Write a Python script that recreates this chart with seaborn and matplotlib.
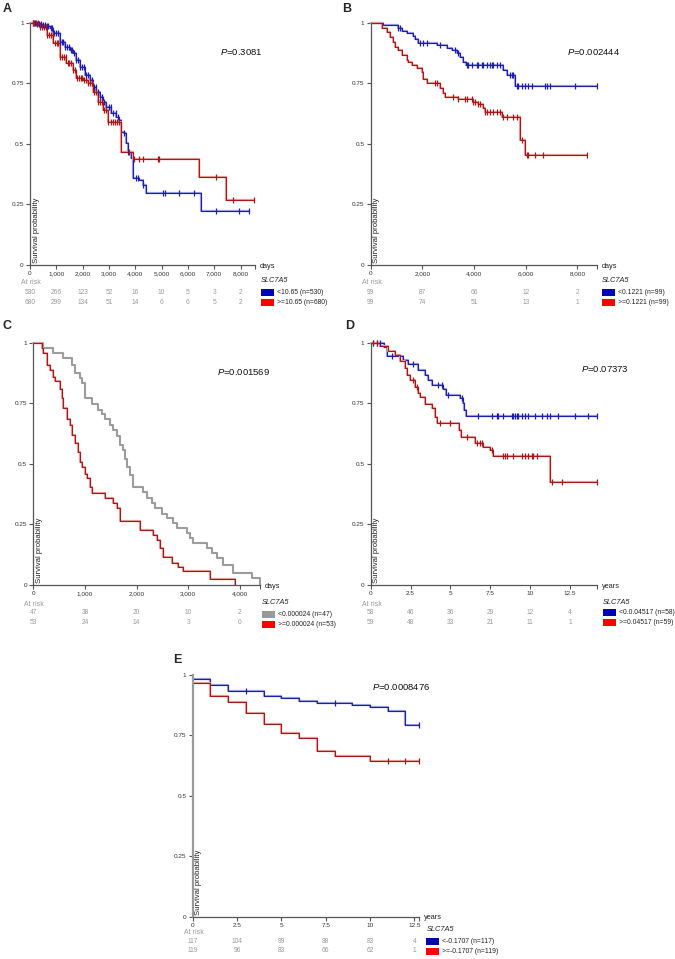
import numpy as np
import pandas as pd
import seaborn as sns
import matplotlib.pyplot as plt
from matplotlib.patches import Rectangle

W, H = 675, 959

# ========= data =========
# panel A (days)
a_low_t = [0, 250, 450, 600, 760, 880, 1130, 1320, 1510, 1640, 1740, 1890, 2080, 2270, 2390, 2520,
           2645, 2770, 2900, 3085, 3275, 3400, 3460, 3590, 3650, 3715, 3840, 3900, 4155, 4280, 4410, 6485]
a_low_s = [1.0, 0.995, 0.99, 0.985, 0.977, 0.956, 0.92, 0.90, 0.887, 0.873, 0.846, 0.818, 0.784, 0.763, 0.736, 0.715,
           0.695, 0.674, 0.653, 0.626, 0.612, 0.598, 0.55, 0.543, 0.502, 0.468, 0.44, 0.358, 0.351, 0.33, 0.296, 0.224]
a_low_end = 8315
a_low_cens = [120, 200, 280, 350, 430, 500, 560, 640, 700, 780, 850, 920, 990, 1060, 1130, 1200, 1260, 1330,
              1400, 1470, 1540, 1600, 1680, 1750, 1820, 1900, 1970, 2050, 2120, 2200, 2280, 2350, 2430, 2500,
              2580, 2660, 2740, 2820, 2900, 2990, 3080, 3170, 3260, 3350, 3590, 3715, 4030, 4090, 4280,
              5040, 5130, 5670, 6235, 7055, 7935, 8315]
a_high_t = [0, 380, 630, 880, 1130, 1385, 1640, 1765, 2015, 2200, 2390, 2580, 2770, 2960, 3460, 3900, 6440, 7450]
a_high_s = [1.0, 0.983, 0.95, 0.915, 0.86, 0.832, 0.805, 0.77, 0.763, 0.75, 0.715, 0.674, 0.64, 0.59, 0.465,
            0.436, 0.365, 0.27]
a_high_end = 8500
a_high_cens = [100, 170, 240, 310, 380, 450, 520, 590, 660, 730, 800, 870, 940, 1010, 1080, 1150, 1220, 1290,
               1360, 1430, 1500, 1570, 1640, 1710, 1780, 1850, 1920, 1990, 2060, 2130, 2200, 2270, 2340, 2420,
               2500, 2580, 2660, 2740, 2820, 2900, 2980, 3060, 3140, 3220, 3300, 3380, 3780, 3970, 4160, 4280,
               4850, 4910, 7055, 7700, 8500]
a_risk_low = [530, 266, 123, 52, 16, 10, 5, 3, 2]
a_risk_high = [680, 299, 134, 51, 14, 6, 6, 5, 2]
a_ticks = [0, 1000, 2000, 3000, 4000, 5000, 6000, 7000, 8000]
a_ticklabels = ["0", "1,000", "2,000", "3,000", "4,000", "5,000", "6,000", "7,000", "8,000"]
a_legend = ["<10.65 (n=530)", ">=10.65 (n=680)"]

# panel B (days)
b_low_t = [0, 490, 1070, 1200, 1390, 1650, 1716, 1845, 2555, 2940, 3135, 3330, 3460, 3590, 3690, 5135, 5265, 5590]
b_low_s = [1.0, 0.99, 0.98, 0.966, 0.956, 0.945, 0.931, 0.915, 0.908, 0.897, 0.887, 0.873, 0.86, 0.839,
           0.824, 0.805, 0.783, 0.739]
b_low_end = 8750
b_low_cens = [1070, 1135, 1910, 2040, 2170, 2685, 3265, 3395, 3715, 3780, 3910, 4105, 4170, 4295, 4360, 4490,
              4620, 4685, 4750, 4880, 5005, 5395, 5460, 5525, 5650, 5715, 5845, 5975, 6105, 6230, 6750, 6815,
              6940, 7910, 8750]
b_high_t = [0, 425, 620, 750, 880, 940, 1070, 1200, 1390, 1460, 1590, 1780, 1975, 2040, 2170, 2685, 2815, 2880,
            3390, 3975, 4170, 4360, 4425, 5070, 5780, 5975]
b_high_s = [1.0, 0.977, 0.96, 0.94, 0.92, 0.9, 0.887, 0.866, 0.846, 0.839, 0.825, 0.811, 0.798, 0.768, 0.75,
            0.729, 0.708, 0.695, 0.685, 0.674, 0.664, 0.646, 0.633, 0.612, 0.516, 0.454]
b_high_end = 8360
b_high_cens = [2490, 2555, 3200, 3395, 3650, 3715, 3910, 3975, 4040, 4170, 4230, 4425, 4490, 4620, 4750, 4880,
               5005, 5135, 5265, 5525, 5650, 5845, 6040, 6105, 6360, 6685, 8360]
b_risk_low = [99, 87, 66, 12, 2]
b_risk_high = [99, 74, 51, 13, 1]
b_ticks = [0, 2000, 4000, 6000, 8000]
b_ticklabels = ["0", "2,000", "4,000", "6,000", "8,000"]
b_legend = ["<0.1221 (n=99)", ">=0.1221 (n=99)"]

# panel C (days)
c_low_t = [0, 194, 387, 580, 742, 806, 903, 935, 1000, 1129, 1258, 1322, 1387, 1484, 1548, 1613, 1677, 1729,
           1774, 1806, 1870, 1935, 2129, 2194, 2290, 2355, 2484, 2581, 2710, 2774, 2968, 3032, 3097, 3355,
           3452, 3548, 3677, 3871, 4226, 4387]
c_low_s = [1.0, 0.98, 0.959, 0.938, 0.908, 0.873, 0.853, 0.832, 0.77, 0.746, 0.723, 0.705, 0.684, 0.66, 0.64,
           0.617, 0.578, 0.556, 0.522, 0.488, 0.454, 0.406, 0.385, 0.358, 0.337, 0.316, 0.293, 0.275, 0.257,
           0.234, 0.216, 0.193, 0.172, 0.151, 0.131, 0.11, 0.083, 0.048, 0.028, 0.0]
c_low_end = 4387
c_high_t = [0, 161, 194, 258, 323, 387, 420, 516, 548, 580, 645, 710, 742, 806, 871, 903, 935, 1000, 1032, 1097,
            1129, 1387, 1548, 1613, 1677, 2065, 2323, 2387, 2452, 2516, 2677, 2806, 2903, 3419, 3903]
c_high_s = [1.0, 0.977, 0.956, 0.908, 0.887, 0.86, 0.84, 0.81, 0.77, 0.73, 0.684, 0.66, 0.62, 0.585, 0.55, 0.509,
            0.488, 0.46, 0.44, 0.406, 0.378, 0.358, 0.337, 0.316, 0.265, 0.227, 0.206, 0.186, 0.151, 0.114,
            0.092, 0.073, 0.058, 0.023, 0.0]
c_high_end = 3903
c_risk_low = [47, 38, 20, 10, 2]
c_risk_high = [53, 24, 14, 3, 0]
c_ticks = [0, 1000, 2000, 3000, 4000]
c_ticklabels = ["0", "1,000", "2,000", "3,000", "4,000"]
c_legend = ["<0.000024 (n=47)", ">=0.000024 (n=53)"]

# panel D (years)
d_low_t = [0, 0.85, 1.05, 2.05, 2.36, 2.99, 3.41, 3.62, 3.83, 4.56, 4.72, 5.6, 5.77, 5.85, 5.98]
d_low_s = [1.0, 0.983, 0.945, 0.928, 0.912, 0.887, 0.867, 0.846, 0.825, 0.809, 0.784, 0.77, 0.75, 0.722, 0.697]
d_low_end = 14.17
d_low_cens = [0.17, 0.38, 0.59, 1.32, 2.68, 4.24, 4.45, 4.87, 5.71, 6.75, 7.59, 7.90, 8.01, 8.32, 8.84, 8.95,
              9.05, 9.16, 9.26, 9.47, 9.68, 9.89, 10.31, 10.72, 11.04, 11.25, 11.77, 12.81, 13.65, 14.17]
d_high_t = [0, 0.59, 1.1, 1.53, 1.84, 2.15, 2.26, 2.47, 2.78, 2.99, 3.09, 3.41, 3.83, 4.03, 4.14, 5.54, 5.64,
            6.54, 7.06, 7.48, 7.69, 11.25]
d_high_s = [1.0, 0.986, 0.967, 0.949, 0.926, 0.894, 0.867, 0.846, 0.818, 0.791, 0.775, 0.747, 0.729, 0.692,
            0.67, 0.64, 0.609, 0.588, 0.568, 0.557, 0.532, 0.426]
d_high_end = 14.17
d_high_cens = [0.17, 0.38, 2.68, 2.88, 4.35, 4.97, 6.02, 6.65, 6.86, 6.96, 7.59, 8.32, 8.42, 8.53, 8.95, 9.47,
               9.68, 9.89, 10.10, 10.20, 10.41, 11.35, 11.98, 14.17]
d_risk_low = [58, 46, 36, 29, 12, 4]
d_risk_high = [59, 48, 33, 21, 11, 1]
d_ticks = [0, 2.5, 5, 7.5, 10, 12.5]
d_ticklabels = ["0", "2.5", "5", "7.5", "10", "12.5"]
d_legend = ["<0.0.04517 (n=58)", ">=0.04517 (n=59)"]

# panel E (years)
e_low_t = [0, 1, 2, 4, 5, 6, 7, 9, 10, 11, 12]
e_low_s = [0.983, 0.959, 0.934, 0.914, 0.903, 0.894, 0.886, 0.876, 0.866, 0.852, 0.793]
e_low_end = 12.78
e_low_cens = [3, 8, 12.78]
e_high_t = [0, 1, 2, 3, 4, 5, 6, 7, 8, 10]
e_high_s = [0.968, 0.914, 0.888, 0.841, 0.796, 0.759, 0.738, 0.687, 0.666, 0.644]
e_high_end = 12.78
e_high_cens = [11, 12, 12.78]
e_risk_low = [117, 104, 99, 88, 83, 4]
e_risk_high = [119, 96, 83, 66, 62, 1]
e_ticks = [0, 2.5, 5, 7.5, 10, 12.5]
e_ticklabels = ["0", "2.5", "5", "7.5", "10", "12.5"]
e_legend = ["<-0.1707 (n=117)", ">=-0.1707 (n=119)"]

p_values = ["0.3081", "0.002444", "0.001569", "0.07373", "0.0008476"]

# ========= style =========
BLUE, BLUE_HALO = "#1f1fae", "#a0a0e0"
RED, RED_HALO = "#a81818", "#e4a0a0"
GRAY = "#9c9c9c"
BOX_BLUE, BOX_RED, BOX_GRAY = "#0000b4", "#ff0000", "#999999"
AXIS = "#555555"
RISK = "#9a9a9a"

sns.set_theme(style="ticks")
plt.rcParams['font.family'] = ['Liberation Sans', 'DejaVu Sans']
plt.rcParams['mathtext.fontset'] = 'custom'
plt.rcParams['mathtext.it'] = 'Liberation Sans:italic'
plt.rcParams['mathtext.rm'] = 'Liberation Sans'

fig = plt.figure(figsize=(W / 100, H / 100), dpi=100)
fig.patch.set_facecolor("white")


def ftext(x, y, s, **kw):
    fig.text(x / W, 1 - y / H, s, **kw)


def draw_curve(ax, t, s, end, cens, color, halo):
    df = pd.DataFrame({"time": list(t) + [end], "surv": list(s) + [s[-1]]})
    if halo is not None:
        sns.lineplot(data=df, x="time", y="surv", drawstyle="steps-post", color=halo, lw=1.6,
                     estimator=None, sort=False, ax=ax, clip_on=False)
    sns.lineplot(data=df, x="time", y="surv", drawstyle="steps-post", color=color,
                 lw=0.8 if halo is not None else 1.5, estimator=None, sort=False, ax=ax, clip_on=False)
    if cens:
        idx = np.searchsorted(np.array(t), np.array(cens), side="right") - 1
        sns.scatterplot(x=cens, y=np.array(s)[idx], marker="|", s=22, color=color, linewidth=0.9,
                        ax=ax, clip_on=False, zorder=4)


def panel(box, xmax, ticks, ticklabels, unit, curves, risks, legend, box_colors, pval, p_xy,
          letter, letter_xy, gaps=(18, 28, 37), lgaps=(16, 27, 37), box_dx=6):
    left, top, right, bottom = box
    ax = fig.add_axes([left / W, 1 - bottom / H, (right - left) / W, (bottom - top) / H])
    for c in curves:
        draw_curve(ax, *c)
    ax.set_xlim(0, xmax)
    ax.set_ylim(0, 1)
    ax.set_xlabel("")
    ax.set_ylabel("")
    ax.set_xticks(ticks)
    ax.set_xticklabels(ticklabels)
    ax.set_xticks([xmax], minor=True)
    ax.set_yticks([0, 0.25, 0.5, 0.75, 1])
    ax.set_yticklabels(["0", "0.25", "0.5", "0.75", "1"])
    ax.tick_params(which="both", length=3, width=0.8, color=AXIS, labelsize=4.6,
                   labelcolor="#333333", pad=1.5)
    sns.despine(ax=ax)
    for sp in ["left", "bottom"]:
        ax.spines[sp].set_color(AXIS)
        ax.spines[sp].set_linewidth(0.9)
    ax.set_facecolor("none")
    ax.annotate("Survival probability", xy=(0, 0), xycoords="axes fraction", xytext=(6, 2),
                textcoords="offset pixels", rotation=90, ha="center", va="bottom", fontsize=5.6,
                color="#222222")
    # at risk table
    ftext(left - 9, bottom + gaps[0], "At risk", fontsize=5, color=RISK, ha="left", va="center")
    for row, gap in zip(risks, gaps[1:]):
        for tk, n in zip(ticks, row):
            ax.annotate(str(n), xy=(tk, 0), xycoords=("data", "axes fraction"), xytext=(0, -gap),
                        textcoords="offset pixels", ha="center", va="center", fontsize=4.8, color=RISK)
    # unit label
    ftext(right + 5, bottom + 1, unit, fontsize=5.3, color="#222222", ha="left", va="center")
    # legend
    ftext(right + box_dx, bottom + lgaps[0], "SLC7A5", fontsize=5.3, style="italic", color="#222222",
          ha="left", va="center")
    for lab, col, gap in zip(legend, box_colors, lgaps[1:]):
        fig.add_artist(Rectangle(((right + box_dx) / W, 1 - (bottom + gap + 3.5) / H), 13 / W, 7 / H,
                                 transform=fig.transFigure, facecolor=col, edgecolor="none"))
        ftext(right + box_dx + 16, bottom + gap, lab, fontsize=4.9, color="#222222", ha="left", va="center")
    ftext(p_xy[0], p_xy[1], "$P$=" + pval, fontsize=6.8, color="#111111", ha="left", va="center")
    ftext(letter_xy[0], letter_xy[1], letter, fontsize=9, fontweight="bold", ha="center", va="center")
    return ax


panel((30, 22.7, 255, 265), 8550, a_ticks, a_ticklabels, "days",
      [(a_low_t, a_low_s, a_low_end, a_low_cens, BLUE, BLUE_HALO),
       (a_high_t, a_high_s, a_high_end, a_high_cens, RED, RED_HALO)],
      [a_risk_low, a_risk_high], a_legend, [BOX_BLUE, BOX_RED], p_values[0], (220, 52), "A", (7, 9))

panel((370.7, 22.7, 596.7, 265), 8750, b_ticks, b_ticklabels, "days",
      [(b_low_t, b_low_s, b_low_end, b_low_cens, BLUE, BLUE_HALO),
       (b_high_t, b_high_s, b_high_end, b_high_cens, RED, RED_HALO)],
      [b_risk_low, b_risk_high], b_legend, [BOX_BLUE, BOX_RED], p_values[1], (566.7, 52), "B", (347, 9),
      box_dx=5)

panel((33.3, 342.7, 260, 585), 4387, c_ticks, c_ticklabels, "days",
      [(c_low_t, c_low_s, c_low_end, [], GRAY, None),
       (c_high_t, c_high_s, c_high_end, [], RED, RED_HALO)],
      [c_risk_low, c_risk_high], c_legend, [BOX_GRAY, BOX_RED], p_values[2], (216.7, 371.7), "C", (7, 326),
      gaps=(19, 28, 37), lgaps=(17, 29, 39), box_dx=2)

panel((370.7, 342.7, 596.7, 585), 14.17, d_ticks, d_ticklabels, "years",
      [(d_low_t, d_low_s, d_low_end, d_low_cens, BLUE, BLUE_HALO),
       (d_high_t, d_high_s, d_high_end, d_high_cens, RED, RED_HALO)],
      [d_risk_low, d_risk_high], d_legend, [BOX_BLUE, BOX_RED], p_values[3], (580.7, 369.3), "D", (350, 326),
      gaps=(19, 28, 37), lgaps=(17, 27, 37), box_dx=6)

ax_e = panel((192.7, 675, 419.3, 916.7), 12.78, e_ticks, e_ticklabels, "years",
             [(e_low_t, e_low_s, e_low_end, e_low_cens, BLUE, BLUE_HALO),
              (e_high_t, e_high_s, e_high_end, e_high_cens, RED, RED_HALO)],
             [e_risk_low, e_risk_high], e_legend, [BOX_BLUE, BOX_RED], p_values[4], (371.7, 686.7), "E",
             (177, 660), gaps=(16, 25, 34), lgaps=(13, 25, 35), box_dx=7)
ax_e.spines["left"].set_color("#9a9a9a")
ax_e.spines["left"].set_linewidth(1.6)

fig.savefig("out.png", dpi=100, facecolor="white")
